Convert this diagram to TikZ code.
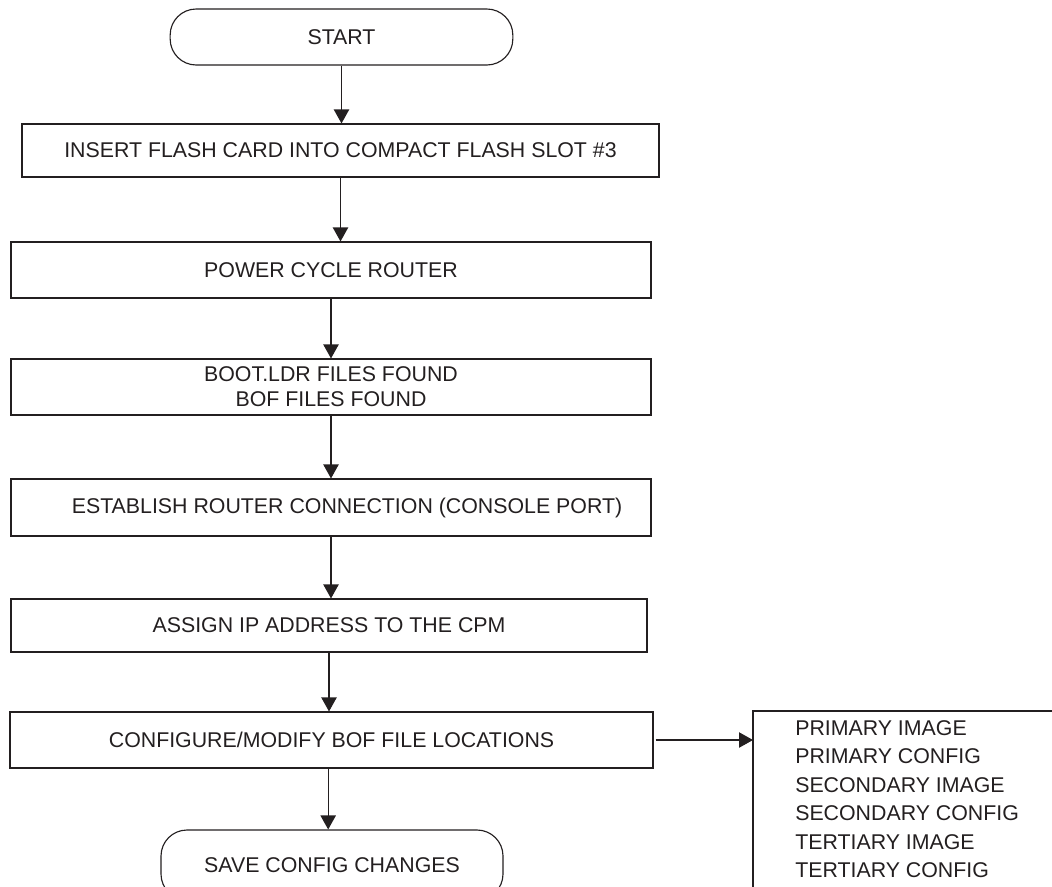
\documentclass[tikz,border=0pt]{standalone}
\usepackage{fontspec}
\setmainfont{Liberation Sans}
\usetikzlibrary{arrows.meta}
\definecolor{ink}{RGB}{35,31,32}
\begin{document}
\begin{tikzpicture}[x=0.75pt,y=-0.75pt,
  font={\fontsize{16}{18.75}\selectfont},
  every node/.style={text=ink},
  stepbox/.style={draw=ink,line width=0.85pt,rectangle,inner sep=0pt},
  termbox/.style={draw=ink,line width=0.85pt,rectangle,rounded corners=19.5pt,inner sep=0pt},
  arr/.style={draw=ink,line width=0.85pt,-{Triangle[length=10.5pt,width=11.5pt]}},
  frame/.style={draw=ink,line width=0.85pt}]
\useasboundingbox (0,0) rectangle (1052,886);

\node[termbox,minimum width=257pt,minimum height=42pt] (start) at (341.5,37) {START};
\node[stepbox,minimum width=477.75pt,minimum height=39.75pt] (b1) at (340.5,150.5) {INSERT FLASH CARD INTO COMPACT FLASH SLOT \#3};
\node[stepbox,minimum width=480pt,minimum height=42pt] (b2) at (331,270) {POWER CYCLE ROUTER};
\node[stepbox,minimum width=480pt,minimum height=42pt,align=center] (b3) at (331,387) {BOOT.LDR FILES FOUND\\BOF FILES FOUND};
\node[stepbox,minimum width=480pt,minimum height=42.75pt] (b4) at (331,507.5) {\hspace*{24pt}ESTABLISH ROUTER CONNECTION (CONSOLE PORT)};
\node[stepbox,minimum width=477pt,minimum height=39.75pt] (b5) at (329,625.5) {ASSIGN IP ADDRESS TO THE CPM};
\node[stepbox,minimum width=482.25pt,minimum height=42pt] (b6) at (331.5,740) {CONFIGURE/MODIFY BOF FILE LOCATIONS};
\node[termbox,minimum width=256.5pt,minimum height=52.5pt] (save) at (332,865) {SAVE CONFIG CHANGES};

\node[anchor=north west,inner xsep=31.5pt,inner ysep=7pt,align=left,
      font={\fontsize{16}{21.3}\selectfont}] (files) at (753,711)
  {PRIMARY IMAGE\\PRIMARY CONFIG\\SECONDARY IMAGE\\SECONDARY CONFIG\\TERTIARY IMAGE\\TERTIARY CONFIG};
\draw[frame] ([xshift=60pt]files.north east) -- (files.north west) -- ([yshift=-20pt]files.south west);

\draw[arr] (start.south) -- (start.south |- b1.north);
\draw[arr] (b1.south) -- (b1.south |- b2.north);
\draw[arr] (b2.south) -- (b3.north);
\draw[arr] (b3.south) -- (b4.north);
\draw[arr] (b4.south) -- (b4.south |- b5.north);
\draw[arr] (b5.south) -- (b5.south |- b6.north);
\draw[arr] ([xshift=-2.5pt]b6.south) -- ([xshift=-2.5pt]b6.south |- save.north);
\draw[arr] ([xshift=1.5pt]b6.east) -- (files.west |- b6.east);
\end{tikzpicture}
\end{document}
